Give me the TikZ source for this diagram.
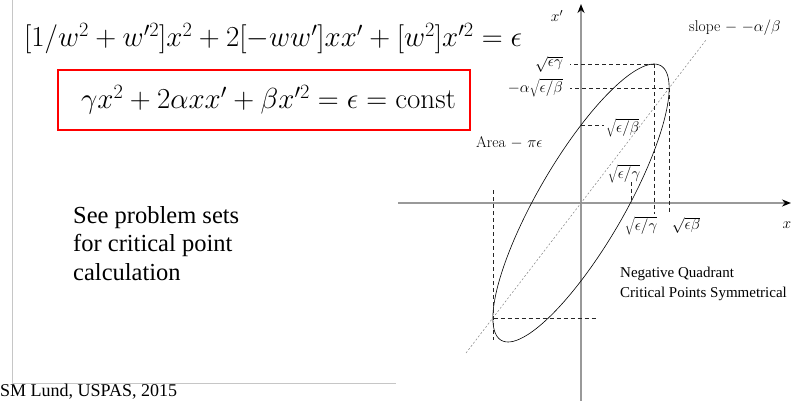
\RequirePackage{fix-cm}
\documentclass[tikz,border=0pt]{standalone}
\usepackage{fontspec}
\newfontfamily\timesfont{Liberation Serif}
\usetikzlibrary{arrows.meta}

\begin{document}
\begin{tikzpicture}[x=1pt,y=-1pt]
    \useasboundingbox (0,0) rectangle (794,401);

        % slide frame
        \draw[gray!45, line width=1pt] (12,0) -- (12,383) -- (396,383);

        % equations
        \begin{scope}[every node/.style={inner sep=0pt, font=\fontsize{29}{33}\selectfont}]
            \node[anchor=base west] (eqw) at (24,47) {$[1/w^2 + w'^2]x^2 + 2[-ww']xx' + [w^2]x'^2 = \epsilon$};
            \node[draw=red, line width=1.5pt, minimum width=412pt, minimum height=60pt] (eqbox) at (264,100) {\hspace*{9pt}$\gamma x^2 + 2\alpha x x' + \beta x'^2 = \epsilon = \mathrm{const}$};
        \end{scope}

        % points of the ellipse
        \coordinate (O) at (581,203);
        \coordinate (T) at (654.5,64.5);
        \coordinate (R) at (669.5,88.5);
        \coordinate (L) at (493.5,318.5);
        \coordinate (Xp) at (581,125.5);
        \coordinate (Xc) at (631.5,203);
        \coordinate (Tl) at (570,64.5);
        \coordinate (Tb) at (654.5,214);
        \coordinate (Rl) at (570,88.5);
        \coordinate (Rb) at (669.5,214);
        \coordinate (Xpr) at (604,125.5);
        \coordinate (Xct) at (631.5,182);
        \coordinate (Lr) at (596,318.5);
        \coordinate (Lt) at (493.5,190);
        \coordinate (Lb) at (493.5,340);
        \coordinate (S1) at (466,353);
        \coordinate (S2) at (706,40);
        \coordinate (xa1) at (398,203);
        \coordinate (xa2) at (791,203);
        \coordinate (ya1) at (581,401);
        \coordinate (ya2) at (581,4);

        % axes
        \begin{scope}[every path/.style={draw=gray!80, line width=1.6pt}]
            \path [-{Stealth[black,length=9pt,width=7pt]}] (xa1) -- (xa2);
            \path [-{Stealth[black,length=9pt,width=7pt]}] (ya1) -- (ya2);
        \end{scope}

        % slope line
        \draw[gray, line width=0.5pt, dash pattern=on 2pt off 2pt] (S1) -- (S2);

        % ellipse
        \draw[line width=0.6pt] plot[domain=0:360, samples=121, smooth] ({581+73*cos(\x)+49.4*sin(\x)},{203-139*cos(\x)});

        % critical points
        \begin{scope}[every path/.style={draw=black!85, line width=0.6pt, dash pattern=on 4pt off 3pt}]
            \path (T) -- (Tl);
            \path (T) -- (Tb);
            \path (R) -- (Rl);
            \path (R) -- (Rb);
            \path (Xp) -- (Xpr);
            \path (Xct) -- (Xc);
            \path (L) -- (Lr);
            \path (Lt) -- (Lb);
        \end{scope}

        % labels
        \begin{scope}[every node/.style={inner sep=0pt, font=\fontsize{15.5}{18}\selectfont}]
            \node (lxp) at (557,16) {$x'$};
            \node (lx) at (787,225) {$x$};
            \node[anchor=base west] (lslope) at (689,32) {slope $-$ $-\alpha/\beta$};
            \node[anchor=east] (ltop) at (563,64) {$\sqrt{\epsilon\gamma}$};
            \node[anchor=east] (lright) at (563,88) {$-\alpha\sqrt{\epsilon/\beta}$};
            \node[anchor=west] (lxp0) at (606,128) {$\sqrt{\epsilon/\beta}$};
            \node[anchor=west] (larea) at (476,143) {Area $-$ $\pi\epsilon$};
            \node (lgam1) at (624,174) {$\sqrt{\epsilon/\gamma}$};
            \node (lgam2) at (641,226) {$\sqrt{\epsilon/\gamma}$};
            \node (lbeta) at (686,225) {$\sqrt{\epsilon\beta}$};
        \end{scope}

        % remarks
        \begin{scope}[every node/.style={inner sep=0pt, align=left, anchor=base west}]
            \node[font=\timesfont\fontsize{24.5}{28.5}\selectfont] (see) at (73,280) {See problem sets\\for critical point\\calculation};
            \node[font=\timesfont\fontsize{15}{20}\selectfont] (quad) at (620,297) {Negative Quadrant\\Critical Points Symmetrical};
            \node[font=\timesfont\fontsize{18}{20}\selectfont] (credit) at (0,396) {SM Lund, USPAS, 2015};
        \end{scope}

    \end{tikzpicture}
\end{document}
